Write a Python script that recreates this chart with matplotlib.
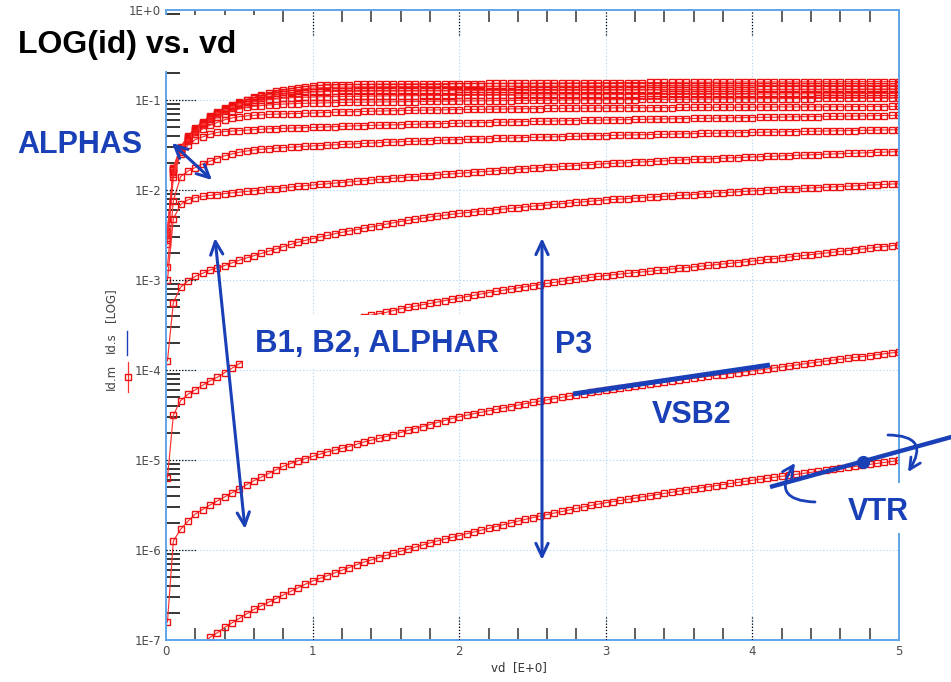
import numpy as np
import matplotlib
matplotlib.use("Agg")
import matplotlib.pyplot as plt
from matplotlib.patches import Rectangle, FancyArrowPatch
from matplotlib.lines import Line2D
from matplotlib.ticker import FixedLocator, MultipleLocator, LogLocator, NullFormatter

plt.rcParams['font.family'] = ['DejaVu Sans']

# drain bias sweep: first point at 10 mV, then 50 mV steps up to 5 V
vd = np.r_[0.01, np.arange(1, 101) * 0.05]

# log10(id), one list per gate bias (top curve first)
log_id_1 = [-2.45, -1.75, -1.52, -1.40, -1.31, -1.24, -1.18, -1.13, -1.09, -1.055,
            -1.025, -0.995, -0.97, -0.945, -0.925, -0.905, -0.89, -0.875, -0.862, -0.851,
            -0.843, -0.838, -0.834, -0.831, -0.829, -0.828, -0.827, -0.826, -0.825, -0.824,
            -0.823, -0.823, -0.822, -0.822, -0.821, -0.821, -0.82, -0.82, -0.819, -0.819,
            -0.818, -0.818, -0.817, -0.817, -0.816, -0.816, -0.815, -0.815, -0.814, -0.814,
            -0.813, -0.813, -0.812, -0.812, -0.811, -0.811, -0.81, -0.81, -0.809, -0.809,
            -0.808, -0.808, -0.807, -0.807, -0.806, -0.806, -0.805, -0.805, -0.804, -0.804,
            -0.803, -0.803, -0.803, -0.802, -0.802, -0.802, -0.801, -0.801, -0.801, -0.80,
            -0.80, -0.80, -0.80, -0.799, -0.799, -0.799, -0.799, -0.798, -0.798, -0.798,
            -0.798, -0.797, -0.797, -0.797, -0.797, -0.796, -0.796, -0.796, -0.796, -0.795,
            -0.795]
log_id_2 = [-2.46, -1.76, -1.53, -1.41, -1.32, -1.25, -1.19, -1.14, -1.10, -1.065,
            -1.035, -1.005, -0.98, -0.96, -0.94, -0.925, -0.91, -0.896, -0.885, -0.875,
            -0.868, -0.864, -0.861, -0.859, -0.857, -0.856, -0.855, -0.854, -0.853, -0.853,
            -0.852, -0.852, -0.851, -0.851, -0.851, -0.85, -0.85, -0.85, -0.85, -0.849,
            -0.849, -0.849, -0.849, -0.848, -0.848, -0.848, -0.848, -0.848, -0.847, -0.847,
            -0.847, -0.847, -0.847, -0.846, -0.846, -0.846, -0.846, -0.846, -0.845, -0.845,
            -0.845, -0.845, -0.845, -0.845, -0.844, -0.844, -0.844, -0.844, -0.844, -0.844,
            -0.843, -0.843, -0.843, -0.843, -0.843, -0.843, -0.842, -0.842, -0.842, -0.842,
            -0.842, -0.842, -0.841, -0.841, -0.841, -0.841, -0.841, -0.841, -0.84, -0.84,
            -0.84, -0.84, -0.84, -0.84, -0.839, -0.839, -0.839, -0.839, -0.839, -0.839,
            -0.838]
log_id_3 = [-2.47, -1.77, -1.54, -1.42, -1.33, -1.26, -1.20, -1.15, -1.11, -1.075,
            -1.045, -1.02, -0.995, -0.975, -0.96, -0.945, -0.935, -0.926, -0.92, -0.915,
            -0.911, -0.908, -0.906, -0.905, -0.904, -0.903, -0.902, -0.902, -0.901, -0.901,
            -0.90, -0.90, -0.90, -0.899, -0.899, -0.899, -0.898, -0.898, -0.898, -0.897,
            -0.897, -0.897, -0.896, -0.896, -0.896, -0.895, -0.895, -0.895, -0.894, -0.894,
            -0.894, -0.893, -0.893, -0.893, -0.892, -0.892, -0.892, -0.891, -0.891, -0.891,
            -0.89, -0.89, -0.89, -0.889, -0.889, -0.889, -0.888, -0.888, -0.888, -0.887,
            -0.887, -0.887, -0.886, -0.886, -0.886, -0.885, -0.885, -0.885, -0.884, -0.884,
            -0.884, -0.883, -0.883, -0.883, -0.882, -0.882, -0.882, -0.881, -0.881, -0.881,
            -0.88, -0.88, -0.88, -0.879, -0.879, -0.879, -0.878, -0.878, -0.878, -0.877,
            -0.877]
log_id_4 = [-2.48, -1.78, -1.55, -1.43, -1.34, -1.27, -1.21, -1.16, -1.12, -1.09,
            -1.06, -1.04, -1.02, -1.005, -0.995, -0.987, -0.98, -0.975, -0.971, -0.969,
            -0.967, -0.965, -0.963, -0.962, -0.961, -0.96, -0.959, -0.958, -0.957, -0.956,
            -0.955, -0.954, -0.953, -0.953, -0.952, -0.952, -0.951, -0.951, -0.95, -0.95,
            -0.949, -0.949, -0.948, -0.948, -0.947, -0.947, -0.946, -0.946, -0.945, -0.945,
            -0.944, -0.944, -0.944, -0.943, -0.943, -0.943, -0.942, -0.942, -0.942, -0.941,
            -0.941, -0.941, -0.94, -0.94, -0.94, -0.939, -0.939, -0.939, -0.938, -0.938,
            -0.938, -0.937, -0.937, -0.937, -0.936, -0.936, -0.936, -0.935, -0.935, -0.935,
            -0.934, -0.934, -0.934, -0.933, -0.933, -0.933, -0.932, -0.932, -0.932, -0.931,
            -0.931, -0.931, -0.93, -0.93, -0.93, -0.929, -0.929, -0.929, -0.928, -0.928,
            -0.928]
log_id_5 = [-2.50, -1.80, -1.56, -1.44, -1.35, -1.28, -1.23, -1.19, -1.15, -1.12,
            -1.10, -1.08, -1.07, -1.062, -1.055, -1.05, -1.045, -1.042, -1.039, -1.037,
            -1.035, -1.033, -1.031, -1.029, -1.027, -1.026, -1.025, -1.024, -1.023, -1.022,
            -1.021, -1.02, -1.019, -1.018, -1.017, -1.016, -1.015, -1.014, -1.013, -1.012,
            -1.011, -1.01, -1.01, -1.009, -1.008, -1.007, -1.007, -1.006, -1.005, -1.004,
            -1.004, -1.003, -1.002, -1.002, -1.001, -1.0, -1.0, -0.999, -0.998, -0.998,
            -0.997, -0.997, -0.996, -0.995, -0.995, -0.994, -0.994, -0.993, -0.993, -0.992,
            -0.992, -0.991, -0.991, -0.99, -0.99, -0.989, -0.989, -0.988, -0.988, -0.987,
            -0.987, -0.986, -0.986, -0.986, -0.985, -0.985, -0.984, -0.984, -0.984, -0.983,
            -0.983, -0.982, -0.982, -0.982, -0.981, -0.981, -0.981, -0.98, -0.98, -0.98,
            -0.979]
log_id_6 = [-2.55, -1.82, -1.58, -1.46, -1.38, -1.32, -1.28, -1.25, -1.22, -1.20,
            -1.185, -1.177, -1.17, -1.165, -1.16, -1.157, -1.155, -1.152, -1.15, -1.147,
            -1.145, -1.142, -1.139, -1.136, -1.133, -1.131, -1.129, -1.127, -1.125, -1.123,
            -1.121, -1.119, -1.117, -1.116, -1.114, -1.113, -1.111, -1.11, -1.109, -1.107,
            -1.106, -1.105, -1.104, -1.103, -1.102, -1.101, -1.1, -1.099, -1.098, -1.097,
            -1.096, -1.095, -1.094, -1.094, -1.093, -1.092, -1.091, -1.091, -1.09, -1.089,
            -1.089, -1.088, -1.087, -1.087, -1.086, -1.086, -1.085, -1.085, -1.084, -1.084,
            -1.083, -1.083, -1.082, -1.082, -1.081, -1.081, -1.08, -1.08, -1.08, -1.079,
            -1.079, -1.078, -1.078, -1.078, -1.077, -1.077, -1.077, -1.076, -1.076, -1.076,
            -1.075, -1.075, -1.075, -1.074, -1.074, -1.074, -1.073, -1.073, -1.073, -1.072,
            -1.072]
log_id_7 = [-2.60, -1.86, -1.60, -1.50, -1.44, -1.41, -1.38, -1.36, -1.35, -1.345,
            -1.34, -1.335, -1.33, -1.325, -1.32, -1.317, -1.315, -1.312, -1.31, -1.307,
            -1.305, -1.302, -1.299, -1.296, -1.293, -1.29, -1.287, -1.284, -1.282, -1.28,
            -1.278, -1.276, -1.274, -1.272, -1.27, -1.268, -1.266, -1.264, -1.262, -1.26,
            -1.258, -1.256, -1.254, -1.252, -1.25, -1.248, -1.246, -1.244, -1.242, -1.24,
            -1.238, -1.236, -1.235, -1.233, -1.232, -1.23, -1.228, -1.227, -1.225, -1.224,
            -1.222, -1.221, -1.219, -1.218, -1.216, -1.215, -1.213, -1.212, -1.21, -1.209,
            -1.208, -1.206, -1.205, -1.204, -1.202, -1.201, -1.2, -1.198, -1.197, -1.196,
            -1.195, -1.193, -1.192, -1.191, -1.19, -1.188, -1.187, -1.186, -1.185, -1.184,
            -1.182, -1.181, -1.18, -1.179, -1.178, -1.177, -1.176, -1.174, -1.173, -1.172,
            -1.171]
log_id_8 = [-2.85, -2.12, -1.85, -1.79, -1.75, -1.71, -1.68, -1.65, -1.62, -1.60,
            -1.58, -1.567, -1.555, -1.547, -1.54, -1.535, -1.53, -1.525, -1.52, -1.515,
            -1.51, -1.506, -1.502, -1.498, -1.494, -1.49, -1.486, -1.482, -1.478, -1.474,
            -1.47, -1.467, -1.464, -1.461, -1.458, -1.455, -1.452, -1.449, -1.446, -1.443,
            -1.44, -1.437, -1.435, -1.432, -1.43, -1.427, -1.425, -1.422, -1.42, -1.417,
            -1.415, -1.413, -1.411, -1.409, -1.407, -1.405, -1.403, -1.401, -1.399, -1.397,
            -1.395, -1.393, -1.391, -1.389, -1.388, -1.386, -1.384, -1.382, -1.381, -1.379,
            -1.377, -1.375, -1.374, -1.372, -1.37, -1.369, -1.367, -1.365, -1.364, -1.362,
            -1.36, -1.359, -1.357, -1.356, -1.354, -1.352, -1.351, -1.349, -1.348, -1.346,
            -1.345, -1.343, -1.342, -1.34, -1.339, -1.337, -1.336, -1.334, -1.333, -1.331,
            -1.33]
log_id_9 = [-3.00, -2.32, -2.16, -2.11, -2.085, -2.07, -2.06, -2.05, -2.04, -2.032,
            -2.024, -2.016, -2.008, -2.0, -1.992, -1.984, -1.976, -1.968, -1.96, -1.952,
            -1.945, -1.938, -1.931, -1.924, -1.917, -1.91, -1.903, -1.896, -1.889, -1.882,
            -1.875, -1.869, -1.863, -1.857, -1.851, -1.845, -1.839, -1.833, -1.827, -1.821,
            -1.815, -1.809, -1.803, -1.797, -1.792, -1.786, -1.78, -1.775, -1.769, -1.764,
            -1.758, -1.753, -1.748, -1.743, -1.738, -1.733, -1.728, -1.723, -1.718, -1.713,
            -1.708, -1.704, -1.7, -1.696, -1.692, -1.688, -1.684, -1.68, -1.676, -1.672,
            -1.668, -1.664, -1.661, -1.657, -1.654, -1.65, -1.647, -1.643, -1.64, -1.636,
            -1.633, -1.63, -1.627, -1.624, -1.621, -1.618, -1.615, -1.612, -1.609, -1.606,
            -1.603, -1.6, -1.597, -1.594, -1.591, -1.588, -1.585, -1.582, -1.579, -1.576,
            -1.573]
log_id_10 = [-3.90, -3.25, -3.08, -3.01, -2.96, -2.925, -2.89, -2.865, -2.84, -2.81,
             -2.78, -2.755, -2.73, -2.705, -2.68, -2.655, -2.63, -2.605, -2.58, -2.56,
             -2.54, -2.522, -2.505, -2.487, -2.47, -2.455, -2.44, -2.425, -2.41, -2.395,
             -2.38, -2.365, -2.35, -2.337, -2.325, -2.312, -2.3, -2.29, -2.28, -2.27,
             -2.26, -2.252, -2.244, -2.236, -2.228, -2.22, -2.212, -2.204, -2.196, -2.188,
             -2.18, -2.173, -2.166, -2.159, -2.152, -2.145, -2.138, -2.131, -2.124, -2.117,
             -2.11, -2.105, -2.1, -2.095, -2.09, -2.085, -2.08, -2.075, -2.07, -2.065,
             -2.06, -2.055, -2.05, -2.045, -2.04, -2.035, -2.03, -2.025, -2.02, -2.015,
             -2.01, -2.006, -2.002, -1.998, -1.994, -1.99, -1.986, -1.982, -1.978, -1.974,
             -1.97, -1.966, -1.962, -1.958, -1.954, -1.95, -1.946, -1.942, -1.938, -1.934,
             -1.93]
log_id_11 = [-5.20, -4.50, -4.34, -4.27, -4.22, -4.17, -4.12, -4.08, -4.03, -3.98,
             -3.93, -3.89, -3.85, -3.81, -3.77, -3.735, -3.70, -3.665, -3.63, -3.60,
             -3.57, -3.54, -3.51, -3.49, -3.47, -3.45, -3.43, -3.41, -3.39, -3.375,
             -3.36, -3.34, -3.32, -3.305, -3.29, -3.275, -3.26, -3.245, -3.23, -3.215,
             -3.20, -3.185, -3.17, -3.155, -3.14, -3.127, -3.114, -3.101, -3.088, -3.075,
             -3.062, -3.05, -3.038, -3.026, -3.014, -3.002, -2.99, -2.98, -2.97, -2.96,
             -2.95, -2.942, -2.934, -2.926, -2.918, -2.91, -2.902, -2.894, -2.886, -2.878,
             -2.87, -2.862, -2.854, -2.846, -2.838, -2.83, -2.822, -2.814, -2.806, -2.798,
             -2.79, -2.781, -2.772, -2.763, -2.754, -2.745, -2.736, -2.727, -2.718, -2.709,
             -2.70, -2.691, -2.682, -2.673, -2.664, -2.655, -2.646, -2.637, -2.628, -2.619,
             -2.61]
log_id_12 = [-6.80, -5.90, -5.77, -5.68, -5.60, -5.55, -5.50, -5.455, -5.41, -5.365,
             -5.32, -5.275, -5.23, -5.19, -5.15, -5.11, -5.07, -5.04, -5.01, -4.985,
             -4.96, -4.935, -4.91, -4.89, -4.87, -4.85, -4.825, -4.80, -4.78, -4.76,
             -4.74, -4.717, -4.695, -4.672, -4.65, -4.628, -4.606, -4.584, -4.562, -4.54,
             -4.52, -4.503, -4.486, -4.47, -4.454, -4.438, -4.422, -4.406, -4.39, -4.375,
             -4.36, -4.346, -4.332, -4.318, -4.304, -4.29, -4.276, -4.262, -4.248, -4.234,
             -4.22, -4.209, -4.198, -4.187, -4.176, -4.165, -4.154, -4.143, -4.132, -4.121,
             -4.11, -4.10, -4.09, -4.08, -4.07, -4.06, -4.05, -4.04, -4.03, -4.02,
             -4.01, -3.999, -3.988, -3.977, -3.966, -3.955, -3.944, -3.933, -3.922, -3.911,
             -3.90, -3.89, -3.88, -3.87, -3.86, -3.85, -3.84, -3.83, -3.82, -3.81,
             -3.80]
log_id_13 = [-8.50, -8.00, -7.60, -7.35, -7.18, -7.05, -6.97, -6.92, -6.86, -6.81,
             -6.76, -6.71, -6.66, -6.62, -6.58, -6.54, -6.50, -6.46, -6.42, -6.38,
             -6.345, -6.315, -6.285, -6.255, -6.225, -6.195, -6.165, -6.135, -6.11, -6.085,
             -6.06, -6.037, -6.014, -5.991, -5.968, -5.945, -5.922, -5.9, -5.88, -5.86,
             -5.84, -5.82, -5.80, -5.78, -5.76, -5.74, -5.72, -5.70, -5.68, -5.66,
             -5.64, -5.623, -5.606, -5.589, -5.572, -5.555, -5.538, -5.521, -5.505, -5.49,
             -5.475, -5.462, -5.449, -5.436, -5.423, -5.41, -5.397, -5.384, -5.371, -5.358,
             -5.345, -5.333, -5.321, -5.309, -5.297, -5.285, -5.273, -5.261, -5.249, -5.237,
             -5.225, -5.214, -5.203, -5.192, -5.181, -5.17, -5.159, -5.148, -5.137, -5.126,
             -5.115, -5.104, -5.093, -5.082, -5.071, -5.06, -5.049, -5.038, -5.027, -5.016,
             -5.005]

curves = [log_id_1, log_id_2, log_id_3, log_id_4, log_id_5, log_id_6, log_id_7,
          log_id_8, log_id_9, log_id_10, log_id_11, log_id_12, log_id_13]

x_ticks = [0, 1, 2, 3, 4, 5]
x_labels = ['0', '1', '2', '3', '4', '5']
y_ticks = [1e0, 1e-1, 1e-2, 1e-3, 1e-4, 1e-5, 1e-6, 1e-7]
y_labels = ['1E+0', '1E-1', '1E-2', '1E-3', '1E-4', '1E-5', '1E-6', '1E-7']

W, H = 951, 682
BLUE = '#1a40b8'
SPINE = '#5ea5e8'
GRID = '#a9d2f5'


def P(x, y):
    # pixel position (top-left origin) -> figure fraction
    return (x / W, 1 - y / H)


fig = plt.figure(figsize=(W / 100, H / 100), dpi=100)
ax = fig.add_axes([166 / W, 1 - 640 / H, (899 - 166) / W, (640 - 10) / H])

for L in curves:
    ax.plot(vd, 10 ** np.array(L), color='#ff3030', lw=0.85, marker='s', ms=3.7,
            mfc='none', mec='#ee1010', mew=1.0)

ax.set_yscale('log')
ax.set_xlim(0, 5)
ax.set_ylim(1e-7, 1)

ax.xaxis.set_major_locator(FixedLocator(x_ticks))
ax.set_xticklabels(x_labels)
ax.yaxis.set_major_locator(FixedLocator(y_ticks))
ax.set_yticklabels(y_labels)
ax.xaxis.set_minor_locator(MultipleLocator(0.2))
ax.yaxis.set_minor_locator(LogLocator(base=10, subs=np.arange(2, 10), numticks=50))
ax.yaxis.set_minor_formatter(NullFormatter())

ax.tick_params(which='major', length=0, labelsize=8.5, labelcolor='#4a4a4a', pad=3.5)
ax.tick_params(axis='x', which='minor', direction='in', length=8.6, width=1.1,
               color='#333333', top=True, bottom=True)
ax.tick_params(axis='y', which='minor', direction='in', length=10, width=1.1,
               color='black', left=True, right=False)

ax.grid(which='major', color=GRID, ls=(0, (1, 2)), lw=0.8)
for s in ax.spines.values():
    s.set_color(SPINE)
    s.set_linewidth(1.4)

# short black dotted stubs at the major ticks
for t in y_ticks[1:-1]:
    ax.plot([0, 30 / 733], [t, t], transform=ax.get_yaxis_transform(),
            color='black', ls=(0, (1, 1.5)), lw=0.9, zorder=2.6)
for t in x_ticks[1:-1]:
    ax.plot([t, t], [0, 25 / 630], transform=ax.get_xaxis_transform(),
            color='black', ls=(0, (1, 1.5)), lw=0.9, zorder=2.6)
    ax.plot([t, t], [1 - 25 / 630, 1], transform=ax.get_xaxis_transform(),
            color='black', ls=(0, (1, 1.5)), lw=0.9, zorder=2.6)

fig.text(*P(519, 668), 'vd  [E+0]', ha='center', va='center', fontsize=8.5, color='#333333')

# y label with its small legend
fig.text(*P(111, 377), 'Id.m', rotation=90, ha='center', va='center', fontsize=8.5, color='#444444')
fig.text(*P(111, 343), 'Id.s', rotation=90, ha='center', va='center', fontsize=8.5, color='#444444')
fig.text(*P(111, 305), '[LOG]', rotation=90, ha='center', va='center', fontsize=8.5, color='#444444')
xs, ys = zip(P(128, 362), P(128, 377), P(128, 392))
fig.add_artist(Line2D(xs, ys, transform=fig.transFigure, color='#ff3030', lw=0.9,
                      marker='s', ms=4.5, mfc='none', mec='#ee1010', markevery=[1]))
xs, ys = zip(P(127, 331), P(127, 355))
fig.add_artist(Line2D(xs, ys, transform=fig.transFigure, color=BLUE, lw=1.0))


def white_box(x0, y0, x1, y1):
    r = Rectangle(P(x0, y1), (x1 - x0) / W, (y1 - y0) / H, transform=fig.transFigure,
                  facecolor='white', edgecolor='none', zorder=5)
    fig.add_artist(r)


white_box(0, 15, 262, 71)
white_box(243, 315, 505, 367)
white_box(835, 483, 920, 533)

font = dict(family=['Liberation Sans', 'DejaVu Sans'], fontweight='bold', zorder=6)
fig.text(*P(18, 53), 'LOG(id) vs. vd', fontsize=23, color='black', va='baseline', **font)
fig.text(*P(17, 153), 'ALPHAS', fontsize=22, color=BLUE, va='baseline', **font)
fig.text(*P(255, 352), 'B1, B2, ALPHAR', fontsize=22.5, color=BLUE, va='baseline', **font)
fig.text(*P(555, 353), 'P3', fontsize=22, color=BLUE, va='baseline', **font)
fig.text(*P(652, 423), 'VSB2', fontsize=22, color=BLUE, va='baseline', **font)
fig.text(*P(848, 520), 'VTR', fontsize=22, color=BLUE, va='baseline', **font)


def arrow(a, b, style='<->', rad=0.0, lw=2.2):
    fig.add_artist(FancyArrowPatch(P(*a), P(*b), transform=fig.transFigure,
                                   arrowstyle=style, mutation_scale=20, lw=lw,
                                   color=BLUE, shrinkA=0, shrinkB=0,
                                   connectionstyle=f'arc3,rad={rad}', zorder=7))


arrow((172, 143), (212, 180), '<->,head_length=0.45,head_width=0.22')
arrow((215, 238), (245, 529), '<->,head_length=0.47,head_width=0.22')
arrow((542, 238), (542, 560), '<->,head_length=0.47,head_width=0.22')
arrow((815, 502), (795, 463), '->,head_length=0.4,head_width=0.2', rad=-0.9, lw=2.0)
arrow((888, 435), (908, 472), '->,head_length=0.4,head_width=0.2', rad=-0.9, lw=2.0)

xs, ys = zip(P(573, 394), P(770, 365))
fig.add_artist(Line2D(xs, ys, transform=fig.transFigure, color=BLUE, lw=3.6,
                      solid_capstyle='butt', zorder=7))
xs, ys = zip(P(770, 487), P(955, 436))
fig.add_artist(Line2D(xs, ys, transform=fig.transFigure, color=BLUE, lw=3.2,
                      solid_capstyle='butt', zorder=7))
fig.add_artist(Line2D([P(863, 462)[0]], [P(863, 462)[1]], transform=fig.transFigure,
                      color=BLUE, marker='o', ms=8.5, lw=0, zorder=8))

fig.savefig('out.png', dpi=100)
